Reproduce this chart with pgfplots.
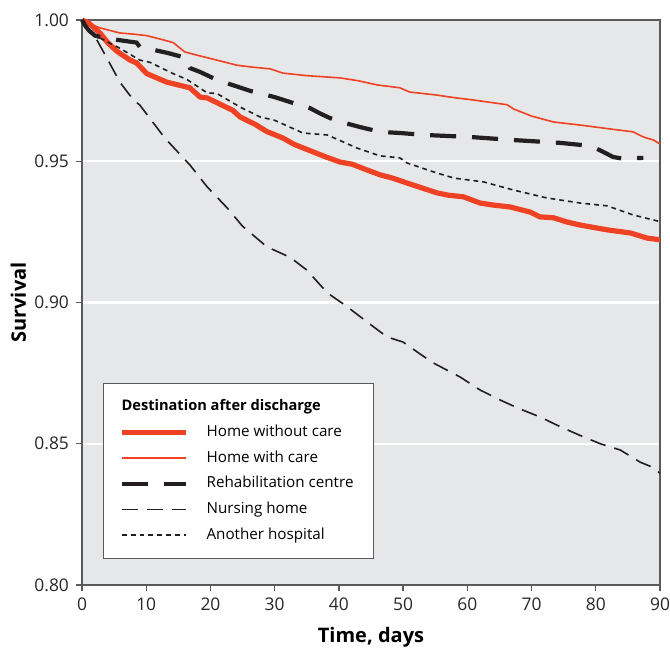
\documentclass[border=0pt]{standalone}
\usepackage{fontspec}
\setmainfont{Open Sans}
\usepackage{pgfplots}
\pgfplotsset{compat=1.18}

\definecolor{kmred}{RGB}{239,65,35}
\definecolor{kmblack}{RGB}{35,31,32}
\definecolor{panel}{RGB}{230,231,232}
\definecolor{axisgray}{RGB}{90,90,92}

\begin{document}
\begin{tikzpicture}
\begin{axis}[
  scale only axis,
  width=289pt, height=282.5pt,
  xmin=0, xmax=90, ymin=0.80, ymax=1.00,
  xtick={0,10,...,90},
  ytick={0.80,0.85,0.90,0.95,1.00},
  xtick pos=bottom, ytick pos=left,
  tick align=outside,
  major tick length=3pt,
  tick style={axisgray, line width=0.7pt},
  axis line style={axisgray, line width=0.8pt},
  axis background/.style={fill=panel},
  ymajorgrids=true,
  grid style={white, line width=1.1pt},
  clip=false,
  /pgf/number format/assume math mode=true,
  yticklabel style={/pgf/number format/.cd, fixed, fixed zerofill, precision=2},
  ticklabel style={font=\fontsize{8.7}{10}\selectfont, text=black!85},
  xlabel={\textbf{Time, days}},
  ylabel={\textbf{Survival}},
  label style={font=\fontsize{10}{12}\selectfont},
  xlabel style={at={(axis description cs:0.5,-0.092)}, anchor=center},
  ylabel style={at={(axis description cs:-0.11,0.5)}, anchor=center},
  legend image code/.code={\draw[#1] (0pt,0pt) -- (32pt,0pt);},
  legend cell align=left,
  legend style={
    at={(0.036,0.046)}, anchor=south west,
    draw=axisgray, line width=0.6pt, fill=white,
    font=\fontsize{7.6}{9}\selectfont,
    row sep=1.6pt, column sep=7pt,
    inner xsep=8pt, inner ysep=6pt,
  },
]
\addlegendimage{empty legend}

% Home without care
\addplot[kmred, line width=2.6pt, line join=round] coordinates {
(0,1.000)(1,0.999)(2.8,0.9954)(4,0.992)(5.4,0.989)(7.5,0.9858)(8.5,0.9848)
(10.1,0.981)(13.2,0.978)(16.8,0.976)(18.4,0.9727)(19.5,0.9724)(23.5,0.968)
(24.6,0.9657)(27,0.963)(28.8,0.9605)(31.3,0.9582)(33,0.956)(36,0.9533)
(38,0.9515)(40.2,0.9497)(42,0.949)(44.4,0.9469)(46.4,0.9452)(48.4,0.944)
(50.6,0.9423)(53,0.9405)(55.3,0.9388)(57,0.938)(59.4,0.9374)(62,0.9352)
(64,0.9345)(66.7,0.9338)(69.8,0.932)(71.3,0.9303)(73.4,0.930)(75.5,0.9285)
(77.6,0.9274)(81.8,0.9257)(85.4,0.9246)(88,0.9228)(90,0.9222)
};

% Home with care
\addplot[kmred, line width=0.8pt] coordinates {
(0,1.000)(0.8,0.9989)(2.8,0.9972)(5.9,0.9954)(8,0.995)(10,0.9945)(12.6,0.993)
(14.2,0.992)(16,0.9887)(18,0.9875)(21,0.9858)(24.1,0.984)(26.2,0.9834)
(29.3,0.9827)(31.3,0.9812)(35,0.9803)(40.2,0.9795)(43,0.9785)(46,0.977)
(49.5,0.976)(51,0.9745)(55,0.9735)(58,0.9725)(60.9,0.9717)(66.2,0.970)
(67.2,0.9685)(70,0.966)(73.4,0.9639)(77.6,0.9628)(82,0.9615)(85.8,0.9604)
(87.4,0.9586)(89,0.9575)(90,0.9561)
};

% Rehabilitation centre
\addplot[kmblack, line width=2.1pt, dash pattern=on 13pt off 8pt] coordinates {
(0,1.000)(0.5,0.998)(1,0.9965)(2,0.9945)(2.8,0.994)(5.4,0.993)(8.5,0.992)
(9,0.9905)(11,0.9895)(13.4,0.9883)(16.3,0.9865)(16.6,0.9845)(16.8,0.983)
(18.4,0.9816)(21,0.9788)(26.2,0.9749)(30,0.9727)(32.9,0.9706)(35.5,0.9688)
(37,0.967)(38.6,0.9653)(41,0.9635)(43.3,0.9621)(46.4,0.9604)(49.5,0.960)
(53.4,0.9593)(60.4,0.9586)(67.2,0.9575)(74.5,0.9565)(78,0.9557)(79.6,0.955)
(81,0.9535)(82.7,0.9515)(84,0.951)(87.4,0.9512)
};

% Nursing home
\addplot[kmblack, line width=0.8pt, dash pattern=on 8pt off 4.5pt] coordinates {
(0,1.000)(1,0.996)(2.3,0.993)(4,0.986)(5.9,0.978)(8,0.9717)(9,0.9699)
(12.9,0.9582)(16.8,0.9487)(19.5,0.9409)(22.6,0.9335)(25,0.927)(28.8,0.9197)
(32.4,0.916)(35,0.9115)(38.2,0.9034)(41,0.899)(44.4,0.8931)(47.5,0.8878)
(50,0.886)(52.5,0.882)(54.7,0.8786)(58.9,0.8736)(62,0.869)(65.1,0.8655)
(68,0.8625)(71.3,0.8595)(74.5,0.856)(77.5,0.853)(80.7,0.850)(83.8,0.8478)
(86.9,0.8435)(88.5,0.842)(90,0.8396)
};

% Another hospital
\addplot[kmblack, line width=0.8pt, dash pattern=on 2.4pt off 2pt] coordinates {
(0,1.000)(1,0.996)(2.8,0.9936)(5.9,0.990)(9,0.9858)(10.6,0.985)(14.2,0.981)
(16.3,0.979)(19.5,0.9742)(21,0.974)(24.6,0.9692)(27.7,0.9657)(30,0.9645)
(34.4,0.960)(38.2,0.9593)(42.8,0.9547)(46.4,0.9519)(49.5,0.9512)(50.6,0.9494)
(55.3,0.9458)(58,0.944)(62.5,0.9427)(67.2,0.9398)(72.4,0.937)(77.6,0.9352)
(81.8,0.9342)(85.8,0.931)(89.7,0.9288)(90,0.9285)
};

\legend{{\hspace*{-42.5pt}\fontsize{7.3}{9}\selectfont\textbf{Destination after discharge}},
  Home without care, Home with care, Rehabilitation centre,
  Nursing home, Another hospital}

\coordinate (pSW) at (rel axis cs:0,0);
\coordinate (pNE) at (rel axis cs:1,1);
\end{axis}
\pgfresetboundingbox
\path[use as bounding box] ([xshift=-41pt,yshift=-31pt]pSW) rectangle ([xshift=5pt,yshift=10pt]pNE);
\end{tikzpicture}
\end{document}
